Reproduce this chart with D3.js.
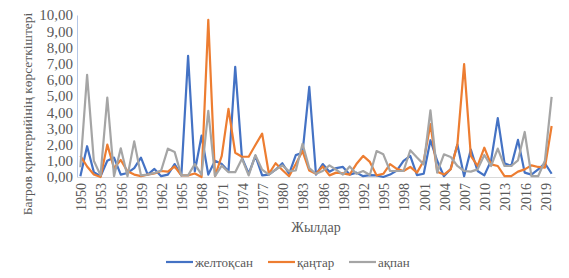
<!DOCTYPE html>
<html>
<head>
<meta charset="utf-8">
<script src="https://cdn.jsdelivr.net/npm/d3@7"></script>
<style>
  html, body { margin: 0; padding: 0; background: #fff; }
  svg text { font-family: "Liberation Serif", "Times New Roman", "DejaVu Serif", serif !important; fill: #595959; }
</style>
</head>
<body>
<svg id="chart" width="569" height="278"></svg>
<script>
const years = d3.range(1950, 2021);
const tickYears = d3.range(1950, 2020, 3);
const yTicks = [0, 1, 2, 3, 4, 5, 6, 7, 8, 9, 10];
const seriesNames = ["желтоқсан", "қаңтар", "ақпан"];
const seriesColors = ["#4472C4", "#ED7D31", "#A5A5A5"];

const zheltoksan = [
  0.05, 1.9, 0.3, 0.05, 1.0, 1.2, 0.15, 0.25, 0.55, 1.2,
  0.15, 0.5, 0.05, 0.15, 0.8, 0.1, 7.48, 0.35, 2.55, 0.15,
  1.0, 0.8, 0.35, 6.8, 1.2, 0.2, 1.3, 0.1, 0.15, 0.45,
  0.85, 0.2, 1.35, 1.5, 5.57, 0.15, 0.8, 0.33, 0.55, 0.62,
  0.15, 0.27, 0.05, 0.12, 0.1, 0.0, 0.15, 0.4, 1.0, 1.3,
  0.12, 0.2, 2.27, 1.0, 0.05, 0.5, 2.0, 0.05, 1.7, 0.37,
  0.1, 1.0, 3.63, 0.85, 0.68, 2.29, 0.27, 0.15, 0.47, 0.85,
  0.2
];
const kantar = [
  1.3, 0.65, 0.15, 0.0, 2.0, 0.55, 1.05, 0.35, 0.15, 0.05,
  0.15, 0.22, 0.37, 0.33, 0.65, 0.1, 0.1, 0.22, 0.0, 9.7,
  0.05, 1.3, 4.2, 1.5, 1.25, 1.25, 1.98, 2.68, 0.2, 0.85,
  0.43, 0.05, 0.8, 1.6, 0.4, 0.2, 0.65, 0.1, 0.27, 0.22,
  0.15, 0.8, 1.3, 0.93, 0.1, 0.2, 0.8, 0.5, 0.37, 0.62,
  0.27, 1.0, 3.26, 0.33, 0.15, 0.47, 2.0, 6.97, 1.3, 0.68,
  1.81, 0.78, 0.68, 0.05, 0.05, 0.33, 0.47, 0.72, 0.62, 0.58,
  3.15
];
const akpan = [
  0.6, 6.3, 1.0, 0.1, 4.9, 0.05, 1.77, 0.05, 2.2, 0.1,
  0.15, 0.25, 0.4, 1.75, 1.55, 0.1, 0.1, 0.8, 0.15, 4.08,
  0.05, 0.7, 0.3, 0.3, 1.13, 0.1, 1.35, 0.45, 0.15, 0.45,
  0.72, 0.35, 0.4, 2.05, 0.55, 0.2, 0.37, 0.72, 0.45, 0.15,
  0.65, 0.2, 0.37, 0.12, 1.6, 1.4, 0.37, 0.37, 0.37, 1.65,
  1.2, 0.78, 4.12, 0.27, 1.4, 1.24, 0.68, 0.37, 0.33, 0.47,
  1.36, 0.68, 1.75, 0.68, 0.68, 1.03, 2.78, 0.05, 0.05, 1.0,
  4.95
];
const seriesValues = [zheltoksan, kantar, akpan];

const svg = d3.select("#chart");
const plot = { left: 77, right: 555, top: 15, bottom: 177 };

const x = d3.scaleBand().domain(years).range([plot.left, plot.right]).padding(0);
const y = d3.scaleLinear().domain([0, 10]).range([plot.bottom, plot.top]);
const fmt = v => d3.format(".2f")(v).replace(".", ",");

// Y axis
const yAxis = svg.append("g")
  .attr("font-family", null)
  .attr("transform", `translate(${plot.left},0)`)
  .call(d3.axisLeft(y).tickValues(yTicks).tickFormat(fmt).tickSize(0).tickPadding(4));
yAxis.attr("font-family", null);
yAxis.select(".domain").attr("stroke", "#b4c7e7").attr("stroke-width", 1);
yAxis.selectAll("text").attr("font-size", 15).attr("fill", "#595959");

// X axis
const xAxis = svg.append("g")
  .attr("transform", `translate(0,${plot.bottom})`)
  .call(d3.axisBottom(x).tickValues(tickYears).tickSize(0).tickPadding(0));
xAxis.attr("font-family", null);
xAxis.select(".domain").attr("stroke", "#d9d9d9").attr("stroke-width", 1.2);
xAxis.selectAll("text")
  .attr("font-size", 14).attr("fill", "#595959")
  .attr("text-anchor", "end")
  .attr("transform", "translate(1,6) rotate(-90)")
  .attr("x", 0).attr("y", 0).attr("dy", "0.35em");

// Lines
const line = d3.line()
  .x((d, i) => x(years[i]) + x.bandwidth() / 2)
  .y(d => y(d));
seriesValues.forEach((vals, k) => {
  svg.append("path")
    .datum(vals)
    .attr("fill", "none")
    .attr("stroke", seriesColors[k])
    .attr("stroke-width", 2.2)
    .attr("stroke-linejoin", "round")
    .attr("d", line);
});

// Axis titles
svg.append("text")
  .attr("x", (plot.left + plot.right) / 2).attr("y", 232)
  .attr("text-anchor", "middle").attr("font-size", 14)
  .text("Жылдар");
svg.append("text")
  .attr("transform", "translate(32,114) rotate(-90)")
  .attr("text-anchor", "middle").attr("font-size", 13.5)
  .text("Багров критерийінің көрсеткіштері");

// Legend
const legendX = [166, 268, 349];
const legend = svg.append("g");
seriesNames.forEach((name, k) => {
  legend.append("line")
    .attr("x1", legendX[k]).attr("x2", legendX[k] + 27)
    .attr("y1", 262).attr("y2", 262)
    .attr("stroke", seriesColors[k]).attr("stroke-width", 2.2);
  legend.append("text")
    .attr("x", legendX[k] + 29).attr("y", 262).attr("dy", "0.35em")
    .attr("font-size", 13)
    .text(name);
});
</script>
</body>
</html>
